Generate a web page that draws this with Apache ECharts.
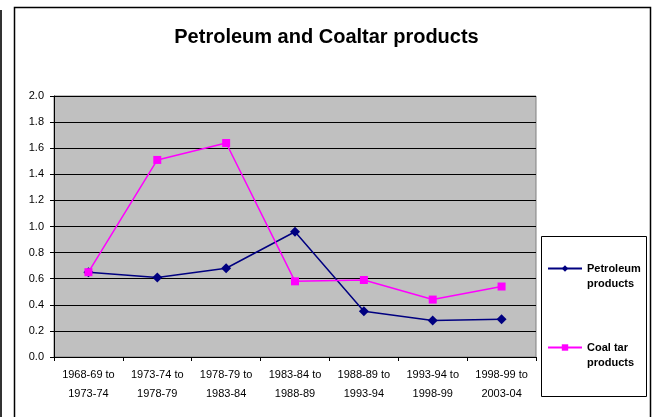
<!DOCTYPE html>
<html>
<head>
<meta charset="utf-8">
<script src="https://cdn.jsdelivr.net/npm/echarts@6/dist/echarts.min.js"></script>
<style>
  html, body { margin: 0; padding: 0; background: #fff; }
  #chart { width: 653px; height: 417px; }
</style>
</head>
<body>
<div id="chart"></div>
<script>
// periods on the x axis (two lines each)
const periods = [
  '1968-69 to\n1973-74',
  '1973-74 to\n1978-79',
  '1978-79 to\n1983-84',
  '1983-84 to\n1988-89',
  '1988-89 to\n1993-94',
  '1993-94 to\n1998-99',
  '1998-99 to\n2003-04'
]
const petroleum = [0.65, 0.61, 0.68, 0.96, 0.35, 0.28, 0.29]
const coalTar = [0.65, 1.51, 1.64, 0.58, 0.59, 0.44, 0.54]
const seriesNames = ['Petroleum products', 'Coal tar products']

const chart = echarts.init(document.getElementById('chart'))

const font = 'Arial, "Liberation Sans", sans-serif'

chart.setOption({
  animation: false,
  textStyle: { fontFamily: font },
  title: {
    text: 'Petroleum and Coaltar products',
    left: 'center',
    top: 22,
    textStyle: { fontSize: 20, fontWeight: 'bold', color: '#000', fontFamily: font }
  },
  graphic: [
    // outer chart frame
    {
      type: 'rect',
      shape: { x: 14.5, y: 7.5, width: 636, height: 420 },
      style: { fill: 'none', stroke: '#000', lineWidth: 1.5 },
      z: 0
    },
    {
      type: 'line',
      shape: { x1: 1, y1: 10, x2: 1, y2: 417 },
      style: { stroke: '#333', lineWidth: 2 },
      z: 0
    },
    // legend box
    {
      type: 'rect',
      shape: { x: 541.5, y: 236.5, width: 105, height: 160 },
      style: { fill: '#fff', stroke: '#000', lineWidth: 1 },
      z: 0
    }
  ],
  legend: {
    orient: 'vertical',
    left: 547,
    top: 248,
    padding: 0,
    itemWidth: 34,
    itemHeight: 8,
    itemGap: 38,
    data: seriesNames,
    // blank first line keeps the icon level with the first text line
    formatter: name => {
      const i = name.lastIndexOf(' ')
      return '{e| }\n{t|' + name.slice(0, i) + '}\n{t|' + name.slice(i + 1) + '}'
    },
    textStyle: {
      rich: {
        e: { fontSize: 11, lineHeight: 15 },
        t: { fontSize: 11, fontWeight: 'bold', color: '#000', lineHeight: 15 }
      }
    }
  },
  grid: {
    left: 54,
    top: 96,
    right: 117,
    bottom: 60,
    show: true,
    backgroundColor: '#c0c0c0',
    borderColor: '#808080',
    borderWidth: 1
  },
  xAxis: {
    type: 'category',
    data: periods,
    boundaryGap: true,
    axisLine: { lineStyle: { color: '#000', width: 1 } },
    axisTick: { show: true, length: 4, lineStyle: { color: '#000' } },
    axisLabel: {
      interval: 0,
      color: '#000',
      fontSize: 11,
      lineHeight: 19,
      margin: 8
    }
  },
  yAxis: {
    type: 'value',
    min: 0,
    max: 2,
    interval: 0.2,
    axisLine: { show: true, lineStyle: { color: '#000', width: 1 } },
    axisTick: { show: true, length: 4, lineStyle: { color: '#000' } },
    splitLine: { show: true, lineStyle: { color: '#000', width: 1 } },
    axisLabel: {
      color: '#000',
      fontSize: 11,
      margin: 10,
      formatter: v => v.toFixed(1)
    }
  },
  series: [
    {
      name: seriesNames[0],
      type: 'line',
      data: petroleum,
      symbol: 'diamond',
      symbolSize: 10,
      lineStyle: { color: '#000080', width: 1.5 },
      itemStyle: { color: '#000080' }
    },
    {
      name: seriesNames[1],
      type: 'line',
      data: coalTar,
      symbol: 'rect',
      symbolSize: 8,
      lineStyle: { color: '#ff00ff', width: 1.5 },
      itemStyle: { color: '#ff00ff' }
    }
  ]
})
</script>
</body>
</html>
